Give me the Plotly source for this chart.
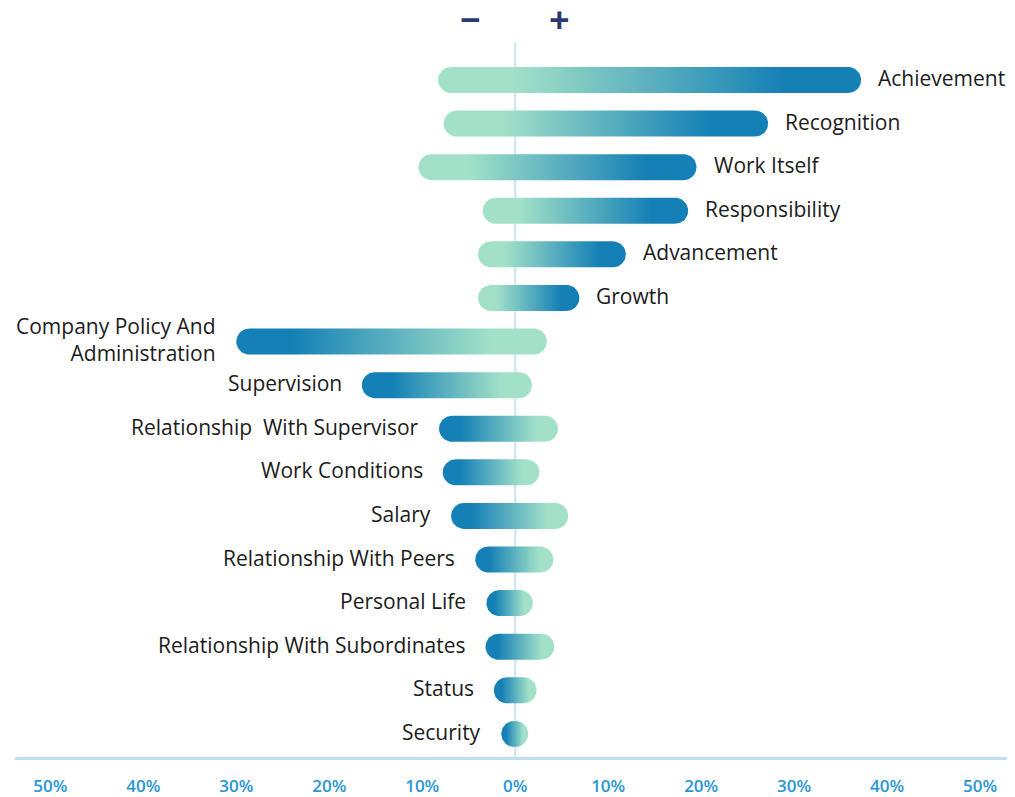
import numpy as np
import plotly.graph_objects as go

factors = ["Achievement", "Recognition", "Work Itself", "Responsibility", "Advancement", "Growth",
           "Company Policy And<br>Administration", "Supervision", "Relationship  With Supervisor",
           "Work Conditions", "Salary", "Relationship With Peers", "Personal Life",
           "Relationship With Subordinates", "Status", "Security"]
negative = [-8.3, -7.7, -10.4, -3.5, -4.0, -4.0, -30.0, -16.5, -8.2, -7.8, -6.9, -4.3, -3.1, -3.2, -2.3, -1.5]
positive = [37.2, 27.2, 19.5, 18.6, 11.9, 6.9, 3.4, 1.8, 4.6, 2.6, 5.7, 4.1, 1.9, 4.2, 2.3, 1.4]
is_motivator = [True] * 6 + [False] * 10
tick_vals = [-50, -40, -30, -20, -10, 0, 10, 20, 30, 40, 50]
tick_text = ["50%", "40%", "30%", "20%", "10%", "0%", "10%", "20%", "30%", "40%", "50%"]

W, H = 1015, 797
ML, MR, MT, MB = 7, 15, 32, 48
XR = [-53.8, 53.0]
YR = [15.53, -0.917]
px_x = (W - ML - MR) / (XR[1] - XR[0])
px_y = (H - MT - MB) / (YR[0] - YR[1])

LIGHT = "#a2e1c8"
DARK = "#1580b6"
half_px = 13
LABEL_FONT = dict(size=21, color="#1c1c1c", family="Open Sans")

fig = go.Figure()
for i, (lo, hi, mot) in enumerate(zip(negative, positive, is_motivator)):
    hy = half_px / px_y
    rx = min(half_px / px_x, (hi - lo) / 2)
    t = np.linspace(-np.pi / 2, np.pi / 2, 30)
    xs_r = hi - rx + rx * np.cos(t)
    ys_r = i - hy * np.sin(t)
    xs_l = lo + rx - rx * np.cos(t)
    ys_l = i + hy * np.sin(t)
    xs = list(xs_r) + list(xs_l) + [xs_r[0]]
    ys = list(ys_r) + list(ys_l) + [ys_r[0]]
    if mot:
        cs = [[0, LIGHT], [0.18, LIGHT], [0.82, DARK], [1, DARK]]
    else:
        cs = [[0, DARK], [0.18, DARK], [0.82, LIGHT], [1, LIGHT]]
    fig.add_trace(go.Scatter(
        x=xs, y=ys, mode="lines", fill="toself", line=dict(width=0, color="rgba(0,0,0,0)"),
        fillgradient=dict(type="horizontal", colorscale=cs),
        hoverinfo="skip", showlegend=False))
    if mot:
        fig.add_annotation(x=hi, y=i, text=factors[i], xanchor="left", xshift=15, yshift=2,
                           showarrow=False, font=LABEL_FONT)
    else:
        fig.add_annotation(x=lo, y=i, text=factors[i], xanchor="right", xshift=-18, yshift=2,
                           align="right", showarrow=False, font=LABEL_FONT)

fig.add_shape(type="line", x0=0, x1=0, xref="x", y0=0, y1=0.997, yref="paper",
              line=dict(color="#c9e5f1", width=2), layer="below")

fig.add_annotation(x=-4.8, y=1.028, xref="x", yref="paper", yanchor="middle", text="<b>−</b>",
                   showarrow=False, font=dict(size=36, color="#2b3a6e", family="Open Sans"))
fig.add_annotation(x=4.8, y=1.028, xref="x", yref="paper", yanchor="middle", text="<b>+</b>",
                   showarrow=False, font=dict(size=36, color="#2b3a6e", family="Open Sans"))

fig.update_layout(
    width=W, height=H, margin=dict(l=ML, r=MR, t=MT, b=MB),
    plot_bgcolor="white", paper_bgcolor="white",
    xaxis=dict(range=XR, tickvals=tick_vals, ticktext=tick_text, showgrid=False, zeroline=False,
               showline=True, linecolor="#bfe0f0", linewidth=2.5, ticks="", ticklabelstandoff=12,
               automargin=False,
               tickfont=dict(size=17, color="#2a96d6", family="Open Sans SemiBold, Open Sans")),
    yaxis=dict(range=YR, visible=False, automargin=False),
)

fig.write_html("out.html")
